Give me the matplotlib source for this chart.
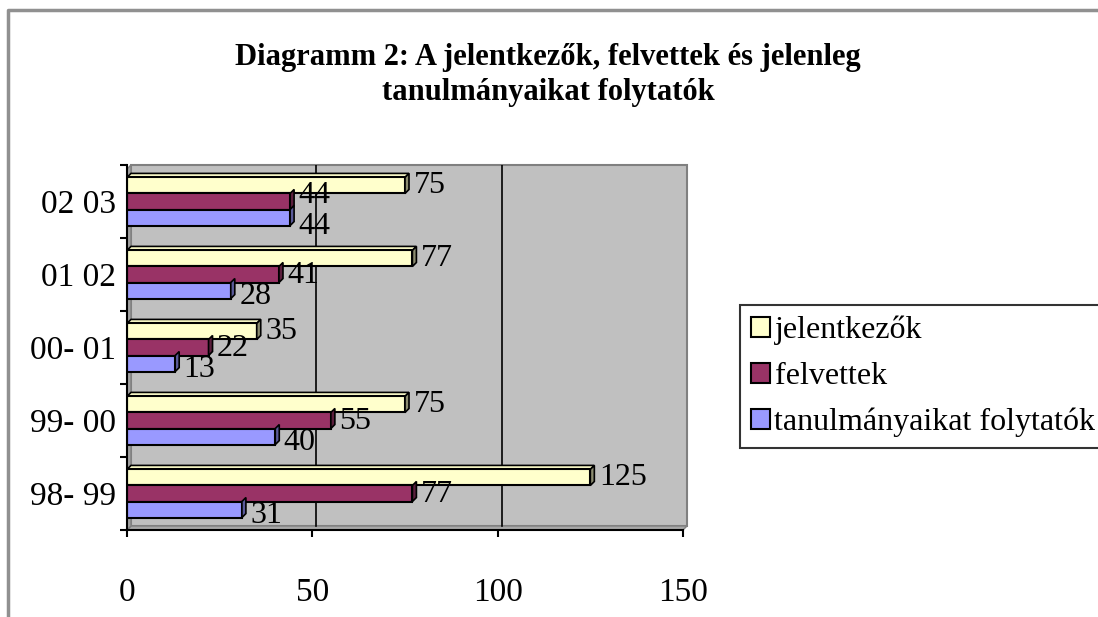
import matplotlib.pyplot as plt
import numpy as np
from matplotlib.patches import Polygon
from matplotlib.lines import Line2D
from matplotlib.transforms import offset_copy

plt.rcParams['font.family'] = ['Liberation Serif', 'DejaVu Serif']

years = ["98- 99", "99- 00", "00- 01", "01 02", "02 03"]
jelentkezok = [125, 75, 35, 77, 75]
felvettek = [77, 55, 22, 41, 44]
folytatok = [31, 40, 13, 28, 44]

series = [
    ("jelentkezők", jelentkezok, "#FFFFCC", "#8C8C70"),
    ("felvettek", felvettek, "#993366", "#5A1E3C"),
    ("tanulmányaikat folytatók", folytatok, "#9999FF", "#5A5A99"),
]

fig = plt.figure(figsize=(10.98, 6.17), dpi=100)
ax = fig.add_axes([127 / 1098, 1 - 530 / 617, 556 / 1098, 365 / 617])
ax.set_xlim(0, 150)
ax.set_ylim(-0.5, len(years) - 0.5)
ax.patch.set_visible(False)

# depth of the 3d effect, in data units
dx = 4 / (556 / 150)
dy = 4 / (365 / len(years))

# back wall, floor and side wall
lo, hi = -0.5, len(years) - 0.5
ax.add_patch(Polygon([(dx, lo + dy), (150 + dx, lo + dy), (150 + dx, hi), (dx, hi)],
                     closed=True, facecolor="#C0C0C0", edgecolor="#808080", lw=1.5,
                     clip_on=False, zorder=0))
ax.add_patch(Polygon([(0, lo), (150, lo), (150 + dx, lo + dy), (dx, lo + dy)],
                     closed=True, facecolor="#A8A8A8", edgecolor="#808080", lw=1,
                     clip_on=False, zorder=0))
ax.add_patch(Polygon([(0, lo), (dx, lo + dy), (dx, hi), (0, hi - dy)],
                     closed=True, facecolor="#A0A0A0", edgecolor="#808080", lw=1,
                     clip_on=False, zorder=0))
for g in (50, 100):
    ax.add_line(Line2D([g + dx, g + dx], [lo + dy, hi], color="black", lw=1.2, zorder=0.5))

h = 0.22
y = np.arange(len(years))
offsets = [h, 0, -h]
label_shift = [0, -1, -6]  # pixels, vertical nudge of the value labels
for k, ((name, vals, col, side), off, sh) in enumerate(zip(series, offsets, label_shift)):
    yc = y + off
    ax.barh(yc, vals, height=h, color=col, edgecolor="black", lw=1.5, label=name,
            zorder=2)
    for i, (yy, v) in enumerate(zip(yc, vals)):
        # Excel pushes two labels apart when their bars end at the same spot
        extra = 0
        if abs(felvettek[i] - folytatok[i]) < 5:
            extra = 7 if k == 1 else (-3 if k == 2 else 0)
        tr = offset_copy(ax.transData, fig=fig, x=0, y=sh + extra, units="dots")
        top = yy + h / 2
        bot = yy - h / 2
        ax.add_patch(Polygon([(0, top), (v, top), (v + dx, top + dy), (dx, top + dy)],
                             closed=True, facecolor=col, edgecolor="black", lw=1.2,
                             zorder=1.9, clip_on=False))
        ax.add_patch(Polygon([(v, bot), (v, top), (v + dx, top + dy), (v + dx, bot + dy)],
                             closed=True, facecolor=side, edgecolor="black", lw=1.2,
                             zorder=2.1, clip_on=False))
        ax.text(v + dx + 1.2, yy, str(v), fontsize=23, va="center", ha="left",
                zorder=3, clip_on=False, transform=tr)

for s in ("top", "right"):
    ax.spines[s].set_visible(False)
ax.spines["left"].set_linewidth(1.5)
ax.spines["bottom"].set_linewidth(1.5)

ax.set_xticks([0, 50, 100, 150])
ax.tick_params(axis="x", direction="out", length=5, width=1.5, pad=29, labelsize=24)
ax.set_yticks(y)
ax.set_yticklabels(years)
ax.set_yticks(np.arange(len(years) + 1) - 0.5, minor=True)
ax.tick_params(axis="y", which="major", length=0, pad=8, labelsize=24)
ax.tick_params(axis="y", which="minor", direction="out", length=5, width=1.5)

fig.text(0.499, 1 - 75 / 617, "Diagramm 2: A jelentkezők, felvettek és jelenleg\ntanulmányaikat folytatók",
         ha="center", va="center", fontsize=22, fontweight="bold", linespacing=1.3)

leg = ax.legend(loc="upper left", bbox_to_anchor=(740 / 1098, 1 - 305 / 617),
                bbox_transform=fig.transFigure, fontsize=23, frameon=True,
                fancybox=False, edgecolor="black", handlelength=0.6, handleheight=0.6,
                handletextpad=0.15, labelspacing=0.53, borderpad=0.33, borderaxespad=0)
leg.get_frame().set_linewidth(1.5)

# outer chart frame
fig.add_artist(Line2D([8 / 1098, 8 / 1098, 1], [0, 1 - 10 / 617, 1 - 10 / 617],
                      color="#909090", lw=2.5, transform=fig.transFigure))

fig.savefig("out.png", dpi=100)
